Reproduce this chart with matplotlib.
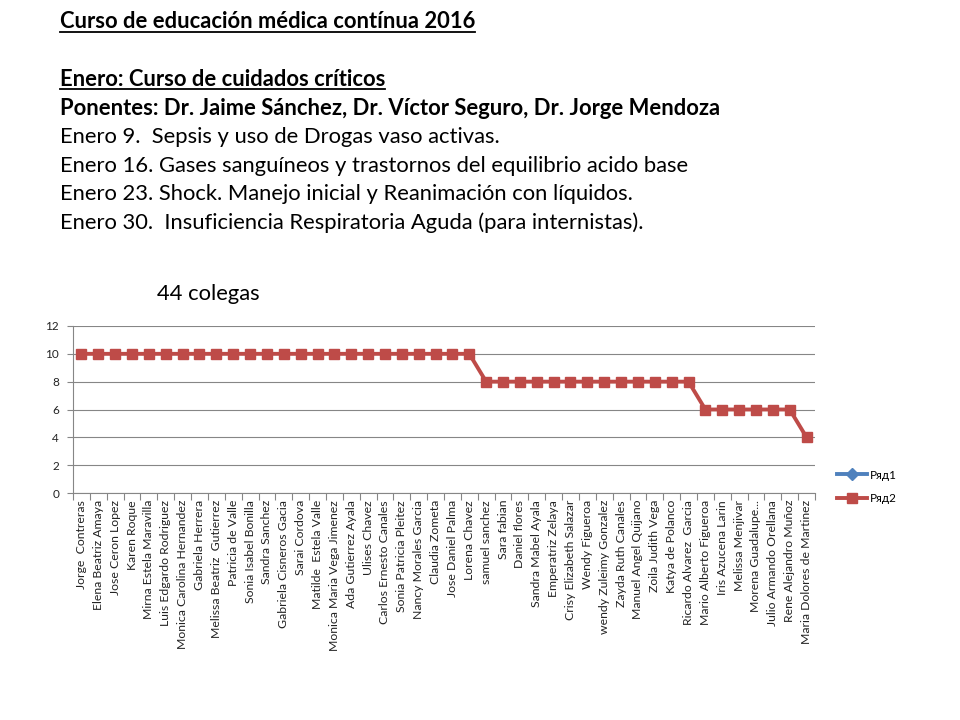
import matplotlib
matplotlib.use("Agg")
import matplotlib.pyplot as plt
import numpy as np
from matplotlib.lines import Line2D

plt.rcParams['font.family'] = ['Lato', 'DejaVu Sans']

names = [
    "Jorge  Contreras", "Elena Beatriz Amaya", "Jose Ceron Lopez", "Karen Roque",
    "Mirna Estela Maravilla", "Luis Edgardo Rodriguez", "Monica Carolina Hernandez",
    "Gabriela Herrera", "Melissa Beatriz  Gutierrez", "Patricia de Valle",
    "Sonia Isabel Bonilla", "Sandra Sanchez", "Gabriela Cisneros Gacia", "Sarai Cordova",
    "Matilde  Estela Valle", "Monica Maria Vega Jimenez", "Ada Gutierrez Ayala",
    "Ulises Chavez", "Carlos Ernesto Canales", "Sonia Patricia Pleitez",
    "Nancy Morales Garcia", "Claudia Zometa", "Jose Daniel Palma", "Lorena Chavez",
    "samuel sanchez", "Sara fabian", "Daniel flores", "Sandra Mabel Ayala",
    "Emperatriz Zelaya", "Crisy Elizabeth Salazar", "Wendy Figueroa",
    "wendy Zuleimy Gonzalez", "Zayda Ruth Canales", "Manuel Angel Quijano",
    "Zoila Judith Vega", "Katya de Polanco", "Ricardo Alvarez  Garcia",
    "Mario Alberto Figueroa", "Iris Azucena Larin", "Melissa Menjivar",
    "Morena Guadalupe...", "Julio Armando Orellana", "Rene Alejandro Muñoz",
    "Maria Dolores de Martinez",
]
serie1 = [np.nan] * len(names)
serie2 = [10] * 24 + [8] * 13 + [6] * 6 + [4]

header_lines = [
    ("Curso de educación médica contínua 2016", "bold", True),
    ("", "normal", False),
    ("Enero: Curso de cuidados críticos", "bold", True),
    ("Ponentes: Dr. Jaime Sánchez, Dr. Víctor Seguro, Dr. Jorge Mendoza", "bold", False),
    ("Enero 9.  Sepsis y uso de Drogas vaso activas.", "normal", False),
    ("Enero 16. Gases sanguíneos y trastornos del equilibrio acido base", "normal", False),
    ("Enero 23. Shock. Manejo inicial y Reanimación con líquidos.", "normal", False),
    ("Enero 30.  Insuficiencia Respiratoria Aguda (para internistas).", "normal", False),
]
subtitle = "44 colegas"

W, H = 960, 720
fig = plt.figure(figsize=(9.6, 7.2), dpi=100)
fig.patch.set_facecolor("white")

ax = fig.add_axes([73 / W, 1 - 493 / H, (815 - 73) / W, (493 - 326) / H])
x = np.arange(len(names))
ax.plot(x, serie1, color="#4F81BD", marker="D", markersize=6, linewidth=2.8, label="Ряд1")
ax.plot(x, serie2, color="#BE4B48", marker="s", markersize=6.5, linewidth=2.8, label="Ряд2")

ax.set_xlim(-0.5, len(names) - 0.5)
ax.set_ylim(0, 12)
ax.set_yticks(np.arange(0, 13, 2))
ax.yaxis.grid(True, color="#868686", linewidth=0.8)
ax.set_axisbelow(True)
for s in ["top", "right"]:
    ax.spines[s].set_visible(False)
for s in ["left", "bottom"]:
    ax.spines[s].set_color("#868686")
    ax.spines[s].set_linewidth(0.8)

ax.set_xticks(x)
ax.set_xticklabels(names, rotation=90, fontsize=8.8, color="#222222")
ax.tick_params(axis="x", which="major", length=0, pad=5)
ax.set_xticks(np.arange(-0.5, len(names), 1), minor=True)
ax.tick_params(axis="x", which="minor", length=5, color="#868686", width=0.8)
ax.tick_params(axis="y", length=4, color="#868686", width=0.8, labelsize=8.5,
               labelcolor="#222222", pad=6)

leg = fig.legend(loc="center left", bbox_to_anchor=(826 / W, 1 - 487 / H), frameon=False,
                 fontsize=8.5, handlelength=2.6, handletextpad=0.2, labelspacing=1.1)

# header text
y0 = 22
dy = 28.7
fig.canvas.draw()
renderer = fig.canvas.get_renderer()
for i, (txt, weight, underline) in enumerate(header_lines):
    if not txt:
        continue
    ypix = y0 + i * dy
    t = fig.text(60 / W, 1 - ypix / H, txt, fontsize=15.8, fontweight=weight,
                 ha="left", va="center", color="black")
    if underline:
        bb = t.get_window_extent(renderer=renderer)
        yl = bb.y0 + 1
        fig.add_artist(Line2D([bb.x0 / W, bb.x1 / W], [yl / H, yl / H],
                              color="black", linewidth=1.3, transform=fig.transFigure))

fig.text(157 / W, 1 - 294 / H, subtitle, fontsize=15.8, ha="left", va="center")

fig.savefig("out.png", dpi=100)
